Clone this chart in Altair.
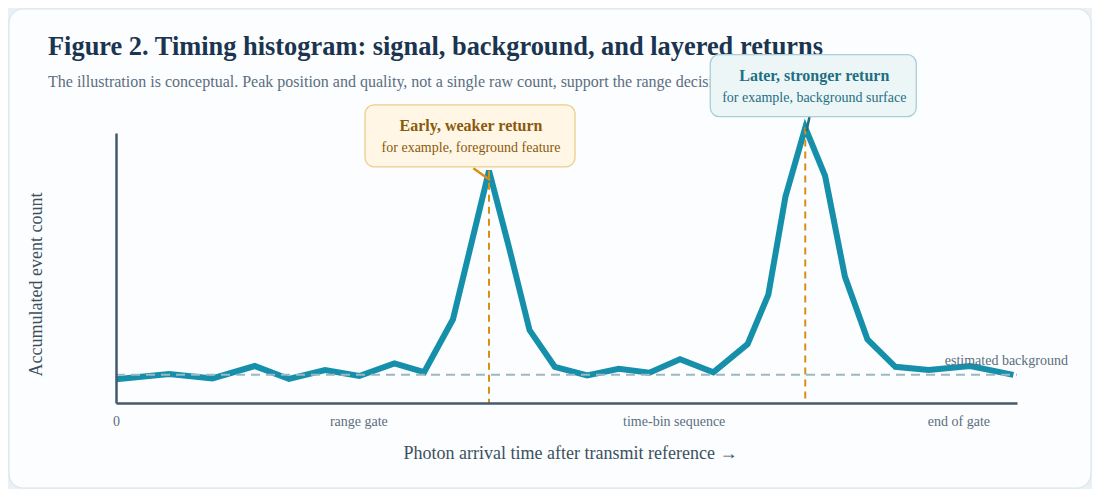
import altair as alt
import pandas as pd

# histogram bins along the range gate (arbitrary time units, 0-100)
arrival_time = [0, 5.9, 10.7, 15.4, 19.2, 23.2, 27.0, 30.9, 34.2, 37.4,
                41.4, 43.6, 45.9, 48.7, 52.3, 55.8, 59.2, 62.6, 66.3, 70.1,
                72.4, 74.3, 76.5, 78.7, 80.9, 83.4, 86.5, 90.2, 94.8, 99.6]
event_count = [8.8, 10.7, 9.1, 13.7, 8.9, 12.2, 10.0, 14.7, 11.4, 31.0,
               86.0, 57.9, 27.0, 13.4, 10.2, 12.7, 11.2, 16.2, 11.4, 21.8,
               40.1, 76.4, 102.0, 84.1, 46.8, 23.6, 13.4, 12.2, 13.7, 10.4]
background_level = 10.5

peak_time = [41.4, 76.5]
peak_count = [86.0, 102.0]
peak_titles = ["Early, weaker return", "Later, stronger return"]
peak_notes = ["for example, foreground feature", "for example, background surface"]

tick_values = [0, 26.9, 61.9, 93.5]
tick_labels = ["0", "range gate", "time-bin sequence", "end of gate"]

TITLE = "Figure 2. Timing histogram: signal, background, and layered returns"
SUBTITLE = ("The illustration is conceptual. Peak position and quality, "
            "not a single raw count, support the range decision.")

W, H = 901, 270
PAD = {"left": 108, "top": 125, "right": 75, "bottom": 86}
PX_X = W / 100
PX_Y = H / 100
SERIF = "Liberation Serif"
INK = "#3c5060"
MUTED = "#5b6e7e"
AXIS = "#44596b"
TEAL = "#1690aa"
ORANGE = "#d98f14"

hist = pd.DataFrame({"t": arrival_time, "n": event_count})
peaks = pd.DataFrame({"t": peak_time, "n": peak_count,
                      "title": peak_titles, "note": peak_notes})
one_row = alt.Data(values=[{}])

label_expr = " : ".join(
    f"datum.value == {v} ? '{s}'" for v, s in zip(tick_values, tick_labels)
) + " : ''"

x_enc = alt.X("t:Q", scale=alt.Scale(domain=[0, 100], nice=False, zero=False),
              axis=alt.Axis(values=tick_values, labelExpr=label_expr, ticks=False,
                            grid=False, domainColor=AXIS, domainWidth=2.5, zindex=1,
                            labelFont=SERIF, labelFontSize=14, labelColor=MUTED,
                            labelBaseline="alphabetic", labelPadding=22,
                            labelFlush=False,
                            title="Photon arrival time after transmit reference \u2192",
                            titleFont=SERIF, titleFontSize=18, titleColor=INK,
                            titleFontWeight="normal", titleY=55, titleX=454,
                            titleBaseline="alphabetic"))
y_enc = alt.Y("n:Q", scale=alt.Scale(domain=[0, 100], nice=False),
              axis=alt.Axis(labels=False, ticks=False, grid=False, zindex=1,
                            domainColor=AXIS, domainWidth=2.5,
                            title="Accumulated event count", titleFont=SERIF,
                            titleFontSize=18, titleColor=INK,
                            titleFontWeight="normal", titleX=-75, titleY=151,
                            titleBaseline="alphabetic"))

# the rounded card behind everything
card = alt.Chart(one_row).mark_rect(
    fill="#fbfdfe", stroke="#dbe6ec", strokeWidth=1.2, cornerRadius=14
).encode(x=alt.value(-PAD["left"] + 1), x2=alt.value(W + PAD["right"] - 1),
         y=alt.value(-PAD["top"] + 1), y2=alt.value(H + PAD["bottom"] - 1))

# heading drawn as marks so the callout box can sit on top of the subtitle
heading = alt.Chart(one_row).mark_text(
    text=TITLE, font=SERIF, fontSize=26.4, fontWeight="bold", color="#1b3550",
    align="left", baseline="alphabetic"
).encode(x=alt.value(-68), y=alt.value(-77.7))
subheading = alt.Chart(one_row).mark_text(
    text=SUBTITLE, font=SERIF, fontSize=16, color=MUTED,
    align="left", baseline="alphabetic"
).encode(x=alt.value(-68), y=alt.value(-46.3))

line = alt.Chart(hist).mark_line(color=TEAL, strokeWidth=6).encode(x=x_enc, y=y_enc)

bg_rule = alt.Chart(one_row).mark_rule(
    color="#9bb8c3", strokeWidth=2, strokeDash=[9, 6]
).encode(x=alt.datum(0), x2=alt.datum(100), y=alt.datum(background_level))

bg_text = alt.Chart(one_row).mark_text(
    text="estimated background", font=SERIF, fontSize=14, color=MUTED,
    align="right", baseline="alphabetic", dx=51, dy=-10
).encode(x=alt.datum(100), y=alt.datum(background_level))

markers = alt.Chart(peaks).mark_rule(
    color=ORANGE, strokeWidth=2, strokeDash=[7, 5]
).encode(x="t:Q", y="n:Q", y2=alt.datum(0))


def callout(i, width, box, title_dy, note_dy, link, fill, stroke, ink):
    row = peaks.iloc[[i]]
    t, n = peak_time[i], peak_count[i]
    seg = pd.DataFrame({"t": [t + link[0] / PX_X], "n": [n - link[1] / PX_Y],
                        "t2": [t + link[2] / PX_X], "n2": [n - link[3] / PX_Y]})
    base = alt.Chart(row).encode(x="t:Q", y="n:Q")
    rect = base.mark_rect(width=width, height=62, xOffset=box[0], yOffset=box[1],
                          fill=fill, stroke=stroke, strokeWidth=1.3, cornerRadius=9)
    link_rule = alt.Chart(seg).mark_rule(color=ink if i else ORANGE, strokeWidth=2.5).encode(
        x="t:Q", y="n:Q", x2="t2:Q", y2="n2:Q")
    head = base.mark_text(font=SERIF, fontSize=16, fontWeight="bold", color=ink,
                          baseline="alphabetic", dx=box[0] + 1, dy=title_dy
                          ).encode(text="title:N")
    note = base.mark_text(font=SERIF, fontSize=14, color=ink,
                          baseline="alphabetic", dx=box[0] + 1, dy=note_dy
                          ).encode(text="note:N")
    return [link_rule, rect, head, note]


early = callout(0, 210, (-19, -35), -40, -19, (-15.7, -2.5, 1, 9.2),
                "#fff6e6", "#ebcd8c", "#8a5a0c")
later = callout(1, 206, (8, -42), -46.5, -26, (4.2, -10.6, 1.2, 3.4),
                "#edf6f7", "#a8cfd8", "#1d6f84")

chart = alt.layer(card, heading, subheading, line, bg_rule, markers, bg_text,
                  *early, *later).properties(
    width=W, height=H,
    autosize=alt.AutoSizeParams(type="none"),
    padding=PAD,
    background="#eaf0f4",
).configure_view(stroke=None)

chart.save("out.html", embed_options={"renderer": "svg", "actions": False})
